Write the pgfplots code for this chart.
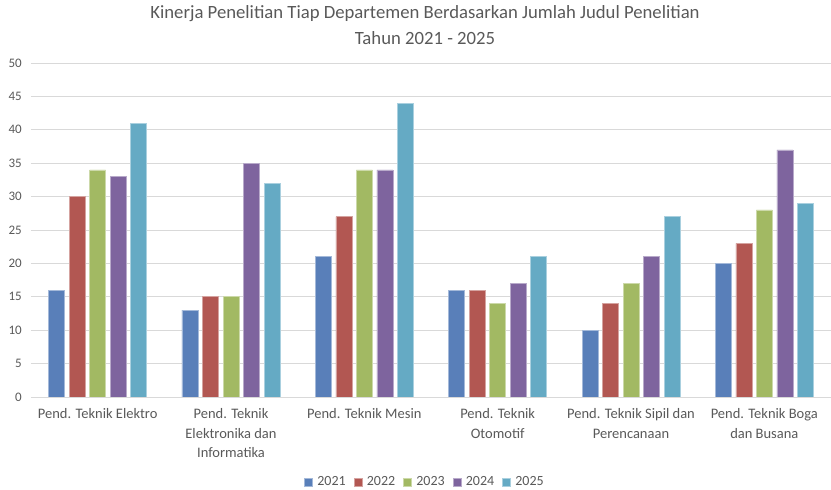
\documentclass[border=0pt]{standalone}
\usepackage{pgfplots}
\pgfplotsset{compat=1.18}
\usepackage{fontspec}
\setmainfont{Carlito}
\definecolor{txt}{RGB}{89,89,89}
\definecolor{gridc}{RGB}{217,217,217}
\definecolor{cA}{RGB}{89,127,185}
\definecolor{cB}{RGB}{178,87,82}
\definecolor{cC}{RGB}{162,185,99}
\definecolor{cD}{RGB}{126,100,158}
\definecolor{cE}{RGB}{101,170,196}
\begin{document}
\begin{tikzpicture}[x=1pt,y=1pt]
\useasboundingbox (0,0) rectangle (831,490);
\node[txt, font=\fontsize{18.7}{22}\selectfont] at (425,476) {Kinerja Penelitian Tiap Departemen Berdasarkan Jumlah Judul Penelitian};
\node[txt, font=\fontsize{18.7}{22}\selectfont] at (425,452) {Tahun 2021 - 2025};
\begin{axis}[
  at={(31pt,93pt)}, anchor=south west,
  scale only axis, width=800pt, height=334pt,
  xmin=-0.5, xmax=5.5, ymin=0, ymax=50,
  ytick={0,5,...,50},
  xtick={0,1,2,3,4,5},
  xticklabels={{Pend. Teknik Elektro},{Pend. Teknik\\Elektronika dan\\Informatika},{Pend. Teknik Mesin},{Pend. Teknik\\Otomotif},{Pend. Teknik Sipil dan\\Perencanaan},{Pend. Teknik Boga\\dan Busana}},
  xticklabel style={align=center, font=\fontsize{14.5}{19.5}\selectfont, text=txt, anchor=north, yshift=-8pt},
  yticklabel style={font=\fontsize{13}{15}\selectfont, text=txt, anchor=east, inner sep=0pt, xshift=-9pt},
  /pgf/number format/assume math mode=true,
  ymajorgrids, grid style={gridc, line width=0.75pt},
  axis line style={draw=none},
  major tick length=0pt, tick style={draw=none},
  ybar, bar width=16pt,
  legend style={at={(0.4925,-0.2545)}, anchor=center, draw=none, fill=none,
    font=\fontsize{14}{16}\selectfont, text=txt, legend columns=-1,
    /tikz/every odd column/.append style={column sep=2.5pt},
    /tikz/every even column/.append style={column sep=6pt}},
  legend image code/.code={\fill[#1] (0pt,-4pt) rectangle (8pt,4pt);},
]
\addplot[fill=cA, draw=cA!55!white, line width=0.6pt, bar shift=-41pt] coordinates {(0,16) (1,13) (2,21) (3,16) (4,10) (5,20)};
\addplot[fill=cB, draw=cB!55!white, line width=0.6pt, bar shift=-20.5pt] coordinates {(0,30) (1,15) (2,27) (3,16) (4,14) (5,23)};
\addplot[fill=cC, draw=cC!55!white, line width=0.6pt, bar shift=0pt] coordinates {(0,34) (1,15) (2,34) (3,14) (4,17) (5,28)};
\addplot[fill=cD, draw=cD!55!white, line width=0.6pt, bar shift=20.5pt] coordinates {(0,33) (1,35) (2,34) (3,17) (4,21) (5,37)};
\addplot[fill=cE, draw=cE!55!white, line width=0.6pt, bar shift=41pt] coordinates {(0,41) (1,32) (2,44) (3,21) (4,27) (5,29)};
\legend{2021,2022,2023,2024,2025}
\end{axis}
\end{tikzpicture}
\end{document}
